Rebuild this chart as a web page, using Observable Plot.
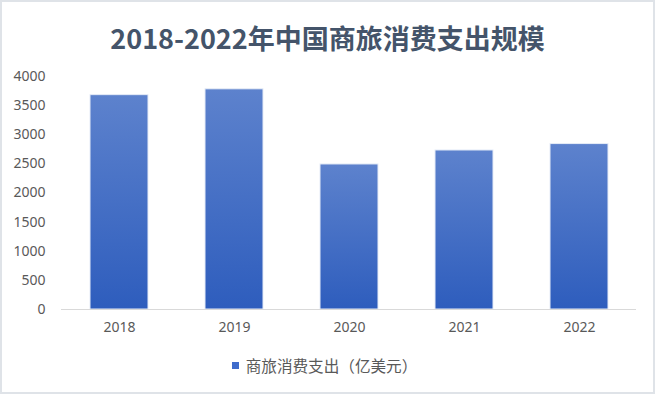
<!DOCTYPE html>
<html>
<head>
<meta charset="utf-8">
<script src="https://cdn.jsdelivr.net/npm/d3@7"></script>
<script src="https://cdn.jsdelivr.net/npm/@observablehq/plot@0.6"></script>
<style>
  html, body { margin: 0; padding: 0; background: #fff; }
  #wrap { position: relative; width: 655px; height: 394px; overflow: hidden; background: #fff; }
  #frame { position: absolute; left: 0; top: 0; width: 655px; height: 394px; box-sizing: border-box; border: 2px solid #dfe3e8; pointer-events: none; }
  #title { position: absolute; left: 0; top: 0; width: 655px; height: 62px; line-height: 76px; text-align: center;
    font-family: "Noto Sans CJK SC", "Noto Sans", sans-serif; font-weight: bold; font-size: 27px; color: #44546a; }
  #chart { position: absolute; left: 0; top: 62px; }
  #legend { position: absolute; left: 0; top: 345px; width: 655px; height: 40px; display: flex; justify-content: center; align-items: center;
    font-family: "Noto Sans CJK SC", sans-serif; font-size: 15.6px; color: #595959; }
  #legend .sw { display: inline-block; width: 7px; height: 7px; background: #3f6ccb; margin-right: 7px; margin-left: -6px; }
</style>
</head>
<body>
<div id="wrap">
  <div id="title">2018-2022年中国商旅消费支出规模</div>
  <div id="chart"></div>
  <div id="legend"><span class="sw"></span><span>商旅消费支出（亿美元）</span></div>
  <div id="frame"></div>
</div>
<script>
const years = ["2018", "2019", "2020", "2021", "2022"];
const spending = [3680, 3780, 2490, 2730, 2840];
const yTicks = [0, 500, 1000, 1500, 2000, 2500, 3000, 3500, 4000];

const data = years.map((y, i) => ({year: y, value: spending[i]}));

const chart = Plot.plot({
  width: 655,
  height: 283,
  marginTop: 14,
  marginBottom: 36,
  marginLeft: 61,
  marginRight: 19,
  style: {fontFamily: "'Noto Sans', sans-serif", fontSize: "14px", color: "#595959", background: "transparent"},
  x: {domain: years, paddingInner: 0.5, paddingOuter: 0.25, label: null, tickSize: 0, tickPadding: 13},
  y: {domain: [0, 4000], ticks: yTicks, label: null, tickSize: 0, tickPadding: 16, tickFormat: d => String(d)},
  marks: [
    Plot.barY(data, {x: "year", y: "value", fill: "url(#barGrad)", stroke: "#e6ecf7", strokeWidth: 1}),
    Plot.ruleY([0], {stroke: "#d9d9d9", strokeWidth: 1})
  ]
});

const svg = d3.select(chart);
const defs = svg.insert("defs", ":first-child");
const grad = defs.append("linearGradient").attr("id", "barGrad")
  .attr("x1", 0).attr("y1", 0).attr("x2", 0).attr("y2", 1);
grad.append("stop").attr("offset", "0%").attr("stop-color", "#5d82cd");
grad.append("stop").attr("offset", "100%").attr("stop-color", "#2e5dbd");

document.getElementById("chart").appendChild(chart);
</script>
</body>
</html>
